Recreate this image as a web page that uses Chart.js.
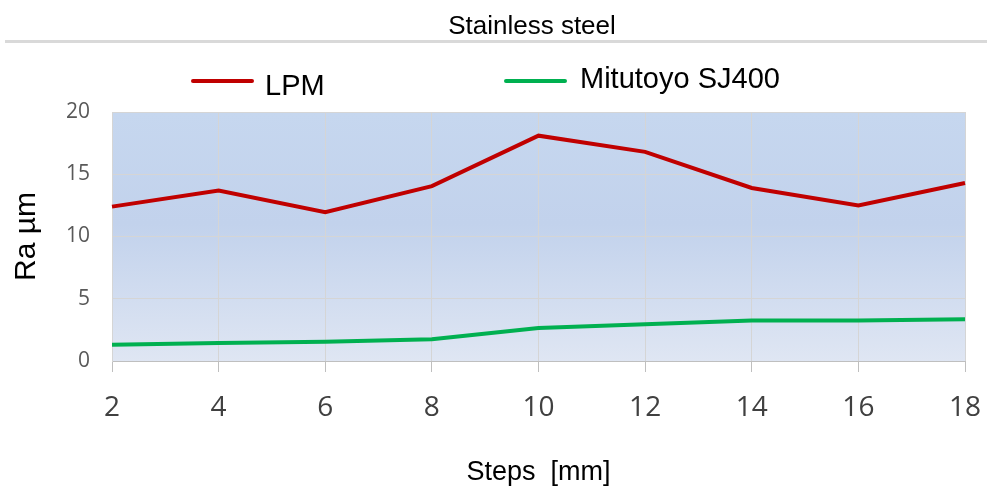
<!DOCTYPE html>
<html>
<head>
<meta charset="utf-8">
<script src="https://cdn.jsdelivr.net/npm/chart.js@4"></script>
<style>
  html, body { margin: 0; padding: 0; background: #fff; }
  #wrap { width: 987px; height: 489px; }
</style>
</head>
<body>
<div id="wrap"><canvas id="myChart" width="987" height="489"></canvas></div>
<script>
// data block
const steps = ["2", "4", "6", "8", "10", "12", "14", "16", "18"];
const lpm = [12.4, 13.7, 11.95, 14.05, 18.1, 16.8, 13.9, 12.5, 14.3];
const mitutoyo = [1.3, 1.45, 1.55, 1.75, 2.65, 2.95, 3.25, 3.25, 3.35];
const seriesNames = ["LPM", "Mitutoyo SJ400"];
const chartTitle = "Stainless steel";

const data = {
  labels: steps,
  datasets: [
    {
      label: seriesNames[0],
      data: lpm,
      borderColor: "#c00000",
      backgroundColor: "#c00000",
      borderWidth: 4,
      pointRadius: 0,
      tension: 0,
    },
    {
      label: seriesNames[1],
      data: mitutoyo,
      borderColor: "#00b050",
      backgroundColor: "#00b050",
      borderWidth: 4,
      pointRadius: 0,
      tension: 0,
    },
  ],
};

// plugin - gradient plot background
const plotBackground = {
  id: "plotBackground",
  beforeDraw: (chart) => {
    const { ctx, chartArea: { left, top, width, height } } = chart;
    const grad = ctx.createLinearGradient(0, top, 0, top + height);
    grad.addColorStop(0, "#c6d7ef");
    grad.addColorStop(0.45, "#c2d2ec");
    grad.addColorStop(1, "#dfe6f3");
    ctx.save();
    ctx.fillStyle = grad;
    ctx.fillRect(left, top, width, height);
    ctx.restore();
  },
};

// plugin - title, separator and legend drawn by hand
const headerLegend = {
  id: "headerLegend",
  afterDraw: (chart) => {
    const { ctx, data } = chart;
    ctx.save();
    ctx.fillStyle = "#000";
    ctx.font = "26px 'Liberation Sans', Arial, sans-serif";
    ctx.textAlign = "center";
    ctx.textBaseline = "alphabetic";
    ctx.fillText(chartTitle, 532, 34);

    ctx.strokeStyle = "#d9d9d9";
    ctx.lineWidth = 3;
    ctx.beginPath();
    ctx.moveTo(5, 41.5);
    ctx.lineTo(987, 41.5);
    ctx.stroke();

    // legend entries: line x range, text x, text baseline
    const items = [
      { x0: 193, x1: 252, tx: 265, ty: 95 },
      { x0: 506, x1: 565, tx: 580, ty: 88 },
    ];
    ctx.font = "29px 'Liberation Sans', Arial, sans-serif";
    ctx.textAlign = "left";
    data.datasets.forEach((dataset, index) => {
      const it = items[index];
      ctx.strokeStyle = dataset.borderColor;
      ctx.lineWidth = 4;
      ctx.lineCap = "round";
      ctx.beginPath();
      ctx.moveTo(it.x0, 81);
      ctx.lineTo(it.x1, 81);
      ctx.stroke();
      ctx.fillStyle = "#000";
      ctx.fillText(dataset.label, it.tx, it.ty);
    });
    ctx.restore();
  },
};

// config block
const config = {
  type: "line",
  data: data,
  options: {
    responsive: false,
    animation: false,
    layout: {
      padding: { top: 112, right: 22, bottom: 0, left: 0 },
    },
    plugins: {
      legend: { display: false },
      title: { display: false },
      tooltip: { enabled: false },
    },
    scales: {
      x: {
        offset: false,
        afterFit: (scale) => {
          scale.height = 128;
          // labels at the ends may overhang, the layout padding covers it
          scale.paddingLeft = 0;
          scale.paddingRight = 0;
        },
        grid: {
          color: "#d5d5d5",
          tickColor: "#bfbfbf",
          tickLength: 11,
          lineWidth: 1,
        },
        border: { color: "#bfbfbf", width: 1 },
        ticks: {
          color: "#404040",
          padding: 19,
          maxRotation: 0,
          font: { family: "'Open Sans', sans-serif", size: 28 },
        },
        title: {
          display: true,
          text: "Steps  [mm]",
          color: "#000",
          padding: { top: 0, bottom: 0 },
          font: { family: "'Liberation Sans', Arial, sans-serif", size: 27 },
        },
      },
      y: {
        min: 0,
        max: 20,
        afterFit: (scale) => { scale.width = 112; },
        grid: {
          color: "#d5d5d5",
          drawTicks: false,
          lineWidth: 1,
        },
        border: { color: "#d5d5d5", width: 1 },
        ticks: {
          stepSize: 5,
          color: "#595959",
          padding: 22,
          font: { family: "'Open Sans', sans-serif", size: 21 },
        },
        title: {
          display: true,
          text: "Ra µm",
          color: "#000",
          padding: { top: 9, bottom: 0 },
          font: { family: "'Liberation Sans', Arial, sans-serif", size: 30 },
        },
      },
    },
  },
  plugins: [plotBackground, headerLegend],
};

// render init block
const myChart = new Chart(document.getElementById("myChart"), config);
</script>
</body>
</html>
